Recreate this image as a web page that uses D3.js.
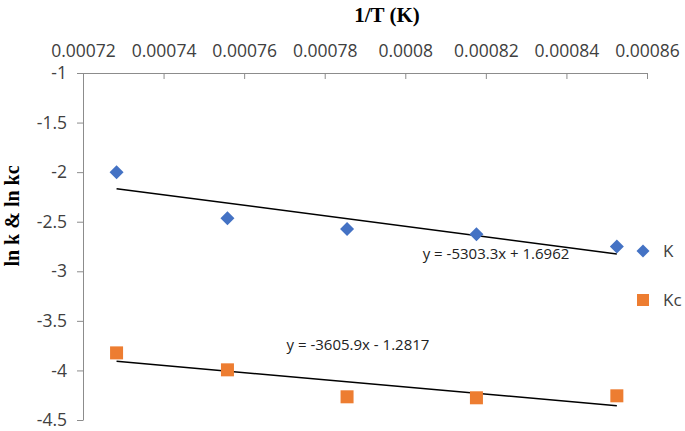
<!DOCTYPE html>
<html><head><meta charset="utf-8">
<script src="https://cdn.jsdelivr.net/npm/d3@7"></script>
<style>body{margin:0;background:#fff;} text{font-family:"Open Sans","Noto Sans",sans-serif;}</style>
</head><body><svg id="c" width="685" height="431"></svg>
<script>
const invT = [1/1373, 1/1323, 1/1273, 1/1223, 1/1173];
const lnK = [-2.0, -2.465, -2.573, -2.626, -2.751];
const lnKc = [-3.823, -3.994, -4.266, -4.276, -4.256];
const xTicks = [0.00072, 0.00074, 0.00076, 0.00078, 0.0008, 0.00082, 0.00084, 0.00086];
const xTickLabels = ["0.00072","0.00074","0.00076","0.00078","0.0008","0.00082","0.00084","0.00086"];
const yTicks = [-1, -1.5, -2, -2.5, -3, -3.5, -4, -4.5];
const yTickLabels = ["-1","-1.5","-2","-2.5","-3","-3.5","-4","-4.5"];
const fitK = {slope: -5303.3, intercept: 1.6962, label: "y = -5303.3x + 1.6962"};
const fitKc = {slope: -3605.9, intercept: -1.2817, label: "y = -3605.9x - 1.2817"};
const seriesNames = ["K", "Kc"];

const svg = d3.select("#c");
const x = d3.scaleLinear().domain([0.00072, 0.00086]).range([83, 647]);
const y = d3.scaleLinear().domain([-1, -4.5]).range([73, 420]);
const axisCol = "#8c8c8c", txtCol = "#404040";

const gx = svg.append("g").attr("transform", "translate(0,73)")
  .call(d3.axisTop(x).tickValues(xTicks).tickFormat((d,i)=>xTickLabels[i]).tickSizeInner(-6).tickSizeOuter(0).tickPadding(16));
gx.select(".domain").attr("stroke", axisCol);
gx.selectAll(".tick line").attr("stroke", axisCol);
gx.selectAll(".tick text").attr("fill", txtCol).style("font-size","17.5px").attr("font-family","Open Sans, sans-serif");

const gy = svg.append("g").attr("transform", "translate(83,0)")
  .call(d3.axisLeft(y).tickValues(yTicks).tickFormat((d,i)=>yTickLabels[i]).tickSizeInner(6).tickSizeOuter(0).tickPadding(10));
gy.select(".domain").attr("stroke", axisCol);
gy.selectAll(".tick line").attr("stroke", axisCol);
gy.selectAll(".tick text").attr("fill", txtCol).style("font-size","17.5px").attr("font-family","Open Sans, sans-serif");

svg.append("text").attr("x", 387).attr("y", 22).attr("text-anchor","middle")
  .style("font-family","Liberation Serif, Times New Roman, serif").style("font-weight","bold").style("font-size","21px").text("1/T (K)");
svg.append("text").attr("transform","translate(19,216) rotate(-90)").attr("text-anchor","middle")
  .style("font-family","Liberation Serif, Times New Roman, serif").style("font-weight","bold").style("font-size","20px").text("ln k & ln kc");

// trendlines
const xmin = d3.min(invT), xmax = d3.max(invT);
[fitK, fitKc].forEach(f => {
  svg.append("line").attr("x1", x(xmin)).attr("y1", y(f.slope*xmin+f.intercept))
    .attr("x2", x(xmax)).attr("y2", y(f.slope*xmax+f.intercept))
    .attr("stroke","#000").attr("stroke-width",1.5);
});

const blue = "#4472C4", orange = "#ED7D31";
svg.selectAll(".k").data(invT).enter().append("path")
  .attr("transform",(d,i)=>`translate(${x(d)},${y(lnK[i])})`)
  .attr("d","M0,-7L7,0L0,7L-7,0Z").attr("fill",blue);
svg.selectAll(".kc").data(invT).enter().append("rect")
  .attr("x",d=>x(d)-6.5).attr("y",(d,i)=>y(lnKc[i])-6.5).attr("width",13).attr("height",13).attr("fill",orange);

// equation labels
svg.append("text").attr("x",496).attr("y",259).attr("text-anchor","middle").attr("fill","#222").style("font-size","15px").text(fitK.label);
svg.append("text").attr("x",358).attr("y",350).attr("text-anchor","middle").attr("fill","#222").style("font-size","15px").text(fitKc.label);

// legend
svg.append("path").attr("transform","translate(643,251)").attr("d","M0,-6.5L6.5,0L0,6.5L-6.5,0Z").attr("fill",blue);
svg.append("text").attr("x",663).attr("y",257).attr("fill",txtCol).style("font-size","17px").text(seriesNames[0]);
svg.append("rect").attr("x",637).attr("y",294).attr("width",12).attr("height",12).attr("fill",orange);
svg.append("text").attr("x",663).attr("y",306).attr("fill",txtCol).style("font-size","17px").text(seriesNames[1]);
</script></body></html>
